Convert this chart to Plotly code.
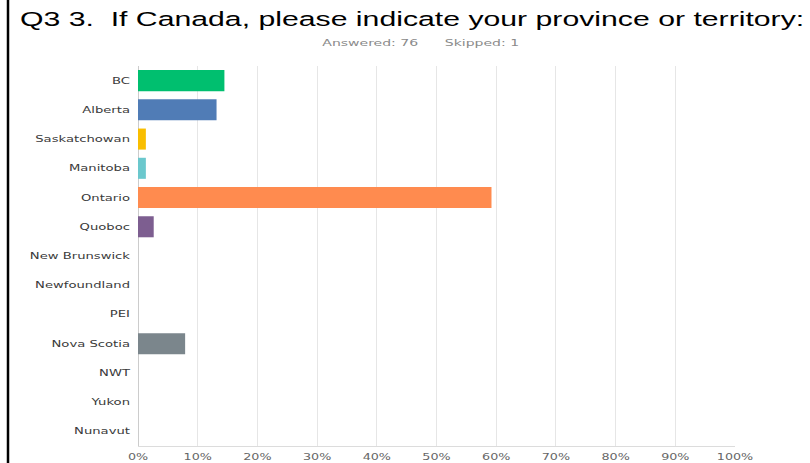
import plotly.graph_objects as go

# Survey responses by province / territory (share of the 76 answered)
provinces = ["BC", "Alberta", "Saskatchowan", "Manitoba", "Ontario", "Quoboc",
             "New Brunswick", "Newfoundland", "PEI", "Nova Scotia", "NWT",
             "Yukon", "Nunavut"]
responses = [11, 10, 1, 1, 45, 2, 0, 0, 0, 6, 0, 0, 0]
answered = 76
skipped = 1
bar_colors = ["#00BF6F", "#507CB6", "#F9BE00", "#6BC8CD", "#FF8B4F", "#7D5E90",
              "#D25F90", "#A0BE4A", "#2D6A8C", "#7B868C", "#C9A36B", "#9C8AD0",
              "#56B4A0"]

shares = [r / answered for r in responses]

W, H = 810, 463
ML, MR, MT, MB = 138, 75, 66, 17
plot_w = W - ML - MR

fig = go.Figure(go.Bar(
    x=shares,
    y=provinces,
    orientation="h",
    marker=dict(color=bar_colors, line=dict(width=0)),
    hovertemplate="%{y}: %{x:.2%}<extra></extra>",
))

fig.update_layout(
    width=W, height=H,
    margin=dict(l=ML, r=MR, t=MT, b=MB, autoexpand=False),
    paper_bgcolor="white", plot_bgcolor="white",
    bargap=0.28,
    showlegend=False,
    font=dict(family="DejaVu Sans", color="#333333"),
    title=dict(
        text="Q3 3.  If Canada, please indicate your province or territory:",
        x=20 / W, xanchor="left", xref="container",
        y=1 - 19 / H, yanchor="middle", yref="container",
        font=dict(size=19.5, color="#000000", family="Liberation Sans"),
    ),
)

fig.update_xaxes(
    range=[0, 1], dtick=0.1, tickformat=".0%",
    showgrid=True, gridcolor="#e6e6e6", gridwidth=1,
    showline=True, linecolor="#dcdcdc", linewidth=1,
    zeroline=True, zerolinecolor="#cccccc", zerolinewidth=1,
    tickfont=dict(size=8.5, color="#666666", family="DejaVu Sans"),
    ticks="", ticklabelstandoff=3, automargin=False, fixedrange=True,
)
fig.update_yaxes(
    categoryorder="array", categoryarray=provinces, autorange="reversed",
    showgrid=False, showline=False,
    tickfont=dict(size=8.5, color="#3a3a3a", family="DejaVu Sans"),
    ticks="", ticklabelstandoff=7, automargin=False, fixedrange=True,
)

# Response counts under the title
fig.add_annotation(
    text=f"Answered: {answered}&nbsp;&nbsp;&nbsp;&nbsp;&nbsp;&nbsp;Skipped: {skipped}",
    xref="paper", yref="paper",
    x=(420 - ML) / plot_w, y=1, yshift=MT - 43,
    xanchor="center", yanchor="middle", showarrow=False,
    font=dict(size=8.5, color="#8a8a8a", family="DejaVu Sans"),
)

# Black rule along the left edge of the page
fig.add_shape(
    type="line", xref="paper", yref="paper",
    x0=(8 - ML) / plot_w, x1=(8 - ML) / plot_w,
    y0=-MB / (H - MT - MB) - 0.05, y1=1 + MT / (H - MT - MB) + 0.05,
    line=dict(color="#000000", width=2.5),
)

# Wide lettering: stretch each text element horizontally about its anchor
stretch_js = """
var gd = document.getElementById('{plot_id}');
function stretch(sel, sx) {
  gd.querySelectorAll(sel).forEach(function (t) {
    var x = parseFloat(t.getAttribute('x')) || 0;
    var tr = t.getAttribute('transform') || '';
    t.setAttribute('transform', tr + ' translate(' + x + ',0) scale(' + sx + ',1) translate(' + (-x) + ',0)');
  });
}
stretch('.gtitle', 1.55);
stretch('.ytick text', 1.55);
stretch('.xtick text', 1.5);
stretch('.annotation-text', 1.65);
"""

fig.write_html("out.html", post_script=stretch_js)
